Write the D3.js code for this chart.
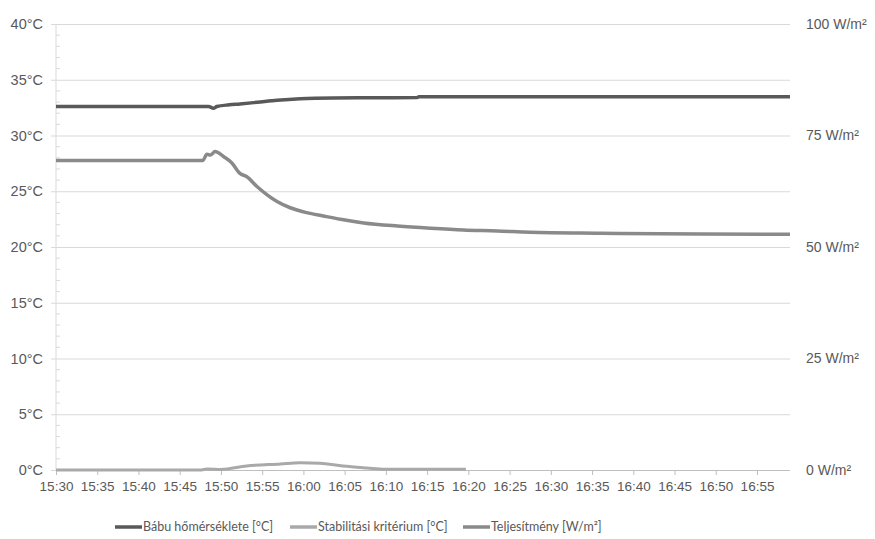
<!DOCTYPE html>
<html>
<head>
<meta charset="utf-8">
<script src="https://cdn.jsdelivr.net/npm/d3@7/dist/d3.min.js"></script>
<style>
  html, body { margin: 0; padding: 0; background: #fff; }
  svg { display: block; font-family: Lato, "Open Sans", sans-serif; }
</style>
</head>
<body>
<svg id="chart" width="875" height="539"></svg>
<script>
// ---- data ----
const xTickLabels = ["15:30","15:35","15:40","15:45","15:50","15:55","16:00","16:05","16:10","16:15","16:20","16:25","16:30","16:35","16:40","16:45","16:50","16:55"];
const leftTickValues = [0, 5, 10, 15, 20, 25, 30, 35, 40];
const rightTickValues = [0, 25, 50, 75, 100];
const seriesNames = ["Bábu hőmérséklete [°C]", "Stabilitási kritérium [°C]", "Teljesítmény [W/m²]"];

const babuTimes = ["15:30:00","15:48:30","15:49:06","15:49:30","15:51:00","15:52:18","15:54:24","15:56:48","15:59:36","16:03:36","16:13:48","16:14:00","16:59:00"];
const babuValues = [32.6, 32.6, 32.45, 32.6, 32.75, 32.83, 32.98, 33.16, 33.3, 33.37, 33.4, 33.48, 33.48];

const stabTimes = ["15:30:00","15:47:30","15:48:18","15:50:00","15:53:06","15:57:12","15:59:36","16:02:00","16:04:48","16:07:42","16:09:54","16:19:42"];
const stabValues = [0, 0, 0.1, 0.05, 0.36, 0.54, 0.65, 0.6, 0.36, 0.18, 0.06, 0.06];

const powerTimes = ["15:30:00","15:47:48","15:48:18","15:48:42","15:49:18","15:50:18","15:51:18","15:52:18","15:53:06","15:54:24","15:55:36","15:56:48","15:58:24","16:00:24","16:02:24","16:04:30","16:07:18","16:11:24","16:15:24","16:19:24","16:23:30","16:27:30","16:36:00","16:48:12","16:59:00"];
const powerValues = [69.4, 69.4, 70.8, 70.6, 71.4, 70.3, 68.9, 66.5, 65.8, 63.5, 61.7, 60.2, 58.8, 57.7, 56.95, 56.2, 55.4, 54.7, 54.2, 53.8, 53.6, 53.3, 53.1, 52.9, 52.85];

// ---- setup ----
const parseT = d3.timeParse("%H:%M:%S");
const parseHM = d3.timeParse("%H:%M");
const svg = d3.select("#chart");
const mLeft = 56, mRight = 790, mTop = 24, mBottom = 470;
const textColor = "#595959";
const gridColor = "#d9d9d9";
const colors = ["#595959", "#a9a9a9", "#8a8a8a"];

const x = d3.scaleTime().domain([parseT("15:30:00"), parseT("16:59:00")]).range([mLeft, mRight]);
const yL = d3.scaleLinear().domain([0, 40]).range([mBottom, mTop]);
const yR = d3.scaleLinear().domain([0, 100]).range([mBottom, mTop]);

// gridlines + left labels
const gLeft = svg.append("g").attr("transform", `translate(${mLeft},0)`)
  .call(d3.axisLeft(yL).tickValues(leftTickValues).tickSize(-(mRight - mLeft)).tickPadding(13).tickFormat(d => d + "°C"));
gLeft.select(".domain").remove();
gLeft.selectAll(".tick line").attr("stroke", gridColor).attr("x1", -5);
gLeft.selectAll(".tick text").attr("fill", textColor).style("font-size", "14.5px");

// left axis vertical line + minor ticks
svg.append("line").attr("x1", mLeft).attr("x2", mLeft).attr("y1", mTop).attr("y2", mBottom).attr("stroke", gridColor);
const minor = d3.range(0, 41).filter(v => v % 5 !== 0);
svg.append("g").selectAll("line").data(minor).join("line")
  .attr("x1", mLeft).attr("x2", mLeft + 4)
  .attr("y1", d => yL(d)).attr("y2", d => yL(d))
  .attr("stroke", gridColor);

// right labels
const gRight = svg.append("g").attr("transform", `translate(${mRight},0)`)
  .call(d3.axisRight(yR).tickValues(rightTickValues).tickSize(0).tickPadding(16).tickFormat(d => d + " W/m²"));
gRight.select(".domain").remove();
gRight.selectAll(".tick text").attr("fill", textColor).style("font-size", "14px");

// x axis
const gX = svg.append("g").attr("transform", `translate(0,${mBottom})`)
  .call(d3.axisBottom(x).tickValues(xTickLabels.map(parseHM)).tickSize(5).tickPadding(6).tickFormat(d3.timeFormat("%H:%M")));
gX.select(".domain").attr("stroke", "#bfbfbf").attr("d", `M${mLeft},0.5H${mRight}`);
gX.selectAll(".tick line").attr("stroke", "#bfbfbf");
gX.selectAll(".tick text").attr("fill", textColor).style("font-size", "13.5px");

// lines
const lineL = d3.line().curve(d3.curveMonotoneX).x(d => x(d[0])).y(d => yL(d[1]));
const lineR = d3.line().curve(d3.curveMonotoneX).x(d => x(d[0])).y(d => yR(d[1]));
const zip = (ts, vs) => ts.map((t, i) => [parseT(t), vs[i]]);

svg.append("path").datum(zip(stabTimes, stabValues)).attr("d", lineL)
  .attr("fill", "none").attr("stroke", colors[1]).attr("stroke-width", 3).attr("stroke-linejoin", "round");
svg.append("path").datum(zip(powerTimes, powerValues)).attr("d", lineR)
  .attr("fill", "none").attr("stroke", colors[2]).attr("stroke-width", 3.5).attr("stroke-linejoin", "round");
svg.append("path").datum(zip(babuTimes, babuValues)).attr("d", lineL)
  .attr("fill", "none").attr("stroke", colors[0]).attr("stroke-width", 3.5).attr("stroke-linejoin", "round");

// legend
const legendX = [115, 290, 463];
const lg = svg.append("g").selectAll("g").data(seriesNames).join("g")
  .attr("transform", (d, i) => `translate(${legendX[i]},527)`);
lg.append("line").attr("x1", 0).attr("x2", 27).attr("y1", 0).attr("y2", 0)
  .attr("stroke", (d, i) => colors[i]).attr("stroke-width", 3.5);
lg.append("text").attr("x", 28).attr("y", 0).attr("dy", "0.35em")
  .attr("fill", textColor).style("font-size", "12.5px").text(d => d);
</script>
</body>
</html>
